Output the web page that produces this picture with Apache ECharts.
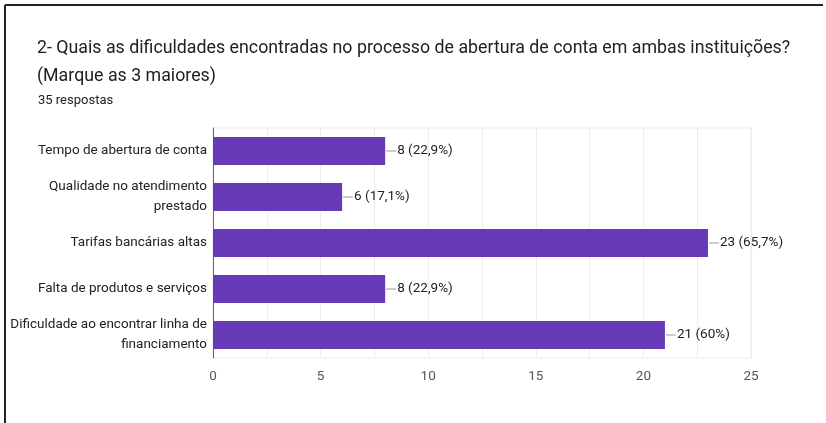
<!DOCTYPE html>
<html>
<head>
<meta charset="utf-8">
<script src="https://cdn.jsdelivr.net/npm/echarts@6/dist/echarts.min.js"></script>
<style>
html,body{margin:0;padding:0;background:#fff;}
#chart{width:826px;height:423px;}
</style>
</head>
<body>
<div id="chart"></div>
<script>
const categories = [
  'Tempo de abertura de conta',
  'Qualidade no atendimento\nprestado',
  'Tarifas bancárias altas',
  'Falta de produtos e serviços',
  'Dificuldade ao encontrar linha de\nfinanciamento'
];
const counts = [8, 6, 23, 8, 21];
const percents = ['22,9', '17,1', '65,7', '22,9', '60'];
const xTicks = [0, 5, 10, 15, 20, 25];
const titleText = '2- Quais as dificuldades encontradas no processo de abertura de conta em ambas instituições?\n(Marque as 3 maiores)';
const subText = '35 respostas';

const chart = echarts.init(document.getElementById('chart'), null, {renderer: 'canvas'});
const font = 'Roboto, "Liberation Sans", Arial, sans-serif';

chart.setOption({
  animation: false,
  backgroundColor: '#fff',
  textStyle: {fontFamily: font},
  graphic: [
    {type: 'line', shape: {x1: 5, y1: 5, x2: 823, y2: 5}, style: {stroke: '#222', lineWidth: 2}},
    {type: 'line', shape: {x1: 5, y1: 5, x2: 5, y2: 423}, style: {stroke: '#222', lineWidth: 2}}
  ],
  title: [
    {text: titleText, left: 32, top: 30, textStyle: {fontFamily: font, fontSize: 17.8, fontWeight: 'normal', color: '#202124', lineHeight: 28}},
    {text: subText, left: 33, top: 89, textStyle: {fontFamily: font, fontSize: 13, fontWeight: 'normal', color: '#202124'}}
  ],
  grid: {left: 213, right: 75, top: 128, bottom: 65, show: true, borderColor: '#ececec', borderWidth: 1, containLabel: false},
  xAxis: {
    type: 'value', min: xTicks[0], max: xTicks[xTicks.length - 1], interval: xTicks[1] - xTicks[0],
    axisLine: {show: false}, axisTick: {show: false},
    axisLabel: {color: '#555', fontSize: 13.5, margin: 12, fontFamily: font},
    splitLine: {show: true, lineStyle: {color: '#ececec'}},
    minorTick: {show: false, splitNumber: 2},
    minorSplitLine: {show: true, lineStyle: {color: '#ececec'}}
  },
  yAxis: {
    type: 'category', data: categories, inverse: true,
    axisLine: {show: true, lineStyle: {color: '#666', width: 1}},
    axisTick: {show: false},
    axisLabel: {color: '#222', fontSize: 13.5, margin: 6, fontFamily: font, lineHeight: 20, align: 'right'}
  },
  series: [{
    type: 'bar',
    data: counts,
    barWidth: 28,
    itemStyle: {color: '#673ab7'},
    label: {
      show: true, position: 'right', distance: 1,
      formatter: p => '{l|}{t|' + counts[p.dataIndex] + ' (' + percents[p.dataIndex] + '%)}',
      rich: {
        l: {width: 10, height: 1, backgroundColor: '#999', verticalAlign: 'middle'},
        t: {fontSize: 13.5, color: '#222', fontFamily: font, padding: [0, 0, 0, 1], verticalAlign: 'middle'}
      }
    }
  }]
});
</script>
</body>
</html>
